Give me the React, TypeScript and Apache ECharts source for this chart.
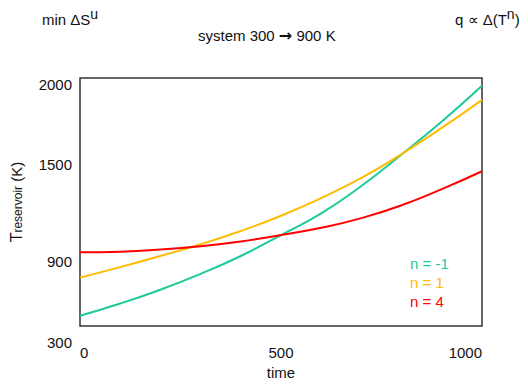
import React, { useEffect, useRef } from 'react';
import * as echarts from 'echarts';

const times = [0, 100, 200, 300, 400, 500, 600, 700, 800, 900, 1000];
const seriesNames = ['n = -1', 'n = 1', 'n = 4'];
const greenVals = [564, 640, 726, 824, 935, 1065, 1200, 1370, 1565, 1770, 1992];
const orangeVals = [801, 866, 935, 1008, 1090, 1185, 1295, 1420, 1568, 1730, 1904];
const redVals = [958, 962, 975, 995, 1025, 1065, 1110, 1170, 1250, 1350, 1461];
const yTickLabels = [900, 1500, 2000];
const yOutsideLabel = '300';
const colors = ['#1cc99a', '#ffbb00', '#ff0000'];

const FONT = '"Liberation Sans", Arial, sans-serif';
const base = { fontSize: 15, fontFamily: FONT, color: '#111', fontWeight: 'normal' as const };

export default function App() {
  const ref = useRef<HTMLDivElement>(null);
  useEffect(() => {
    if (!ref.current) return;
    const chart = echarts.init(ref.current, null, { renderer: 'svg' });
    const allVals = [greenVals, orangeVals, redVals];
    chart.setOption({
      animation: false,
      backgroundColor: '#fff',
      textStyle: { fontFamily: FONT },
      title: [
        {
          text: '{a|min ΔS}{s|u}',
          left: 42,
          top: 7,
          padding: 0,
          textStyle: {
            fontWeight: 'normal',
            rich: {
              a: { ...base, verticalAlign: 'bottom', lineHeight: 20 },
              s: { ...base, fontSize: 14, verticalAlign: 'top', lineHeight: 12 },
            },
          },
        },
        {
          text: '{a|system 300 }{r|→}{a| 900 K}',
          left: 198,
          top: 27,
          padding: 0,
          textStyle: {
            fontWeight: 'normal',
            rich: {
              a: { ...base },
              r: { ...base, fontFamily: '"DejaVu Sans", sans-serif', fontWeight: 'bold', fontSize: 16 },
            },
          },
        },
        {
          text: '{a|q ∝ Δ(T}{s|n}{a|)}',
          left: 455,
          top: 7,
          padding: 0,
          textStyle: {
            fontWeight: 'normal',
            rich: {
              a: { ...base, verticalAlign: 'bottom', lineHeight: 20 },
              s: { ...base, fontSize: 14, verticalAlign: 'top', lineHeight: 12 },
            },
          },
        },
      ],
      legend: {
        orient: 'vertical',
        left: 400,
        top: 251,
        itemGap: 4,
        itemWidth: 0,
        itemHeight: 14,
        data: seriesNames.map((n, i) => ({ name: n, icon: 'none', textStyle: { color: colors[i] } })),
        textStyle: { fontSize: 15, fontFamily: FONT },
      },
      grid: {
        left: 80,
        right: 46,
        top: 78,
        bottom: 58,
        show: true,
        borderColor: '#333',
        borderWidth: 1.5,
        backgroundColor: 'transparent',
      },
      xAxis: {
        type: 'value',
        min: 0,
        max: 1000,
        interval: 500,
        name: 'time',
        nameLocation: 'middle',
        nameGap: 30,
        nameTextStyle: { ...base },
        axisLine: { show: false },
        axisTick: { show: false },
        splitLine: { show: false },
        axisLabel: {
          ...base,
          margin: 19,
          alignMinLabel: 'left',
          alignMaxLabel: 'right',
          formatter: (v: number) => String(v),
        },
      },
      yAxis: {
        type: 'value',
        min: 500,
        max: 2040,
        interval: 100,
        name: '{t|T}{r|reservoir}{k| (K)}',
        nameLocation: 'middle',
        nameGap: 56,
        nameTextStyle: {
          rich: {
            t: { ...base, fontSize: 16, verticalAlign: 'bottom' },
            r: { ...base, fontSize: 12, verticalAlign: 'bottom' },
            k: { ...base, verticalAlign: 'bottom' },
          },
        },
        axisLine: { show: false },
        axisTick: { show: false },
        splitLine: { show: false },
        axisLabel: {
          ...base,
          margin: 8,
          showMaxLabel: false,
          formatter: (v: number) => (yTickLabels.includes(v) ? String(v) : ''),
        },
      },
      graphic: [
        {
          type: 'text',
          x: 72,
          y: 342,
          style: {
            text: yOutsideLabel,
            align: 'right',
            verticalAlign: 'middle',
            fontSize: 15,
            fontFamily: FONT,
            fill: '#111',
          },
        },
      ],
      series: seriesNames.map((n, i) => ({
        name: n,
        type: 'line',
        data: times.map((t, j) => [t, allVals[i][j]]),
        showSymbol: false,
        smooth: true,
        lineStyle: { color: colors[i], width: 2 },
        itemStyle: { color: colors[i] },
      })),
    });
    return () => chart.dispose();
  }, []);
  return <div ref={ref} style={{ position: 'fixed', left: 0, top: 0, width: 528, height: 385 }} />;
}
